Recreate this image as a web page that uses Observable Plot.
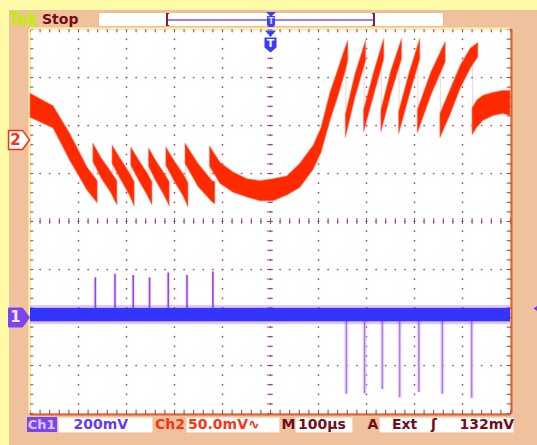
<!DOCTYPE html>
<html><head><meta charset="utf-8">
<script src="https://cdn.jsdelivr.net/npm/d3@7"></script>
<script src="https://cdn.jsdelivr.net/npm/@observablehq/plot@0.6"></script>
<style>
html,body{margin:0;padding:0;}
body{width:537px;height:445px;overflow:hidden;background:#fffba6;font-family:"DejaVu Sans",sans-serif;font-weight:bold;}
#scope{position:absolute;left:0;top:0;width:537px;height:445px;}
#panel{position:absolute;left:9px;top:10px;width:528px;height:435px;background:#efc19d;}
#chart{position:absolute;left:0;top:0;}
.lbl{position:absolute;white-space:nowrap;line-height:1;font-size:14px;}
.box{position:absolute;background:#fff;border:1px solid #f7d9bd;box-sizing:border-box;}
.dk{color:#760b1c;}
</style></head>
<body>
<div id="scope">
  <div id="panel"></div>
  <div id="chart"></div>

  <!-- header -->
  <span class="lbl" style="left:8.5px;top:9.5px;font-size:19px;color:#bff000;transform:scaleX(0.8);transform-origin:0 0;">Tek</span>
  <span class="lbl dk" style="left:42px;top:11.5px;font-size:14px;">Stop</span>
  <div class="box" style="left:97.5px;top:12px;width:346px;height:15px;border-color:#f0b896;"></div>
  <div style="position:absolute;left:167px;top:18.5px;width:207px;height:2px;background:#a57cf7;"></div>
  <div style="position:absolute;left:166px;top:13px;width:1.5px;height:13px;background:#8c1c3c;"></div>
  <div style="position:absolute;left:166px;top:13px;width:3px;height:1.2px;background:#8c1c3c;"></div>
  <div style="position:absolute;left:166px;top:24.8px;width:3px;height:1.2px;background:#8c1c3c;"></div>
  <div style="position:absolute;left:373px;top:13px;width:1.5px;height:13px;background:#8c1c3c;"></div>
  <div style="position:absolute;left:371.5px;top:13px;width:3px;height:1.2px;background:#8c1c3c;"></div>
  <div style="position:absolute;left:371.5px;top:24.8px;width:3px;height:1.2px;background:#8c1c3c;"></div>
  <div style="position:absolute;left:266px;top:12px;width:0;height:0;border-left:5px solid transparent;border-right:5px solid transparent;border-top:5px solid #3c3cff;"></div>
  <div style="position:absolute;left:267px;top:16px;width:8px;height:11px;background:#3c3cff;border-radius:0 0 3px 3px;"></div>
  <span class="lbl" style="left:267px;width:8px;text-align:center;top:17px;font-size:9px;color:#dcd4ff;">T</span>

  <!-- footer -->
  <div class="box" style="left:27px;top:416.5px;width:29.5px;height:15.5px;background:#7a44f5;border:none;"></div>
  <span class="lbl" style="left:27px;width:29.5px;text-align:center;top:417.8px;font-size:13px;color:#d9c8ff;">Ch1</span>
  <div class="box" style="left:58px;top:416.5px;width:94.5px;height:16px;"></div>
  <span class="lbl" style="left:73.5px;top:417.2px;color:#6b38f2;">200mV</span>
  <span class="lbl" style="left:155px;top:417.2px;color:#ff3311;">Ch2</span>
  <div class="box" style="left:185.5px;top:416.5px;width:94px;height:16px;"></div>
  <span class="lbl" style="left:188px;top:417.2px;color:#ff3311;">50.0mV∿</span>
  <span class="lbl dk" style="left:281.5px;top:417.2px;">M</span>
  <div class="box" style="left:295px;top:416.5px;width:58px;height:16px;"></div>
  <span class="lbl dk" style="left:298px;top:417.2px;">100µs</span>
  <span class="lbl dk" style="left:367.5px;top:417.2px;">A</span>
  <div class="box" style="left:378.5px;top:416.5px;width:135px;height:16px;"></div>
  <span class="lbl dk" style="left:392px;top:417.2px;">Ext</span>
  <span class="lbl dk" style="left:431px;top:417.2px;">ʃ</span>
  <span class="lbl dk" style="left:459.5px;top:417.2px;">132mV</span>
</div>

<script>
// ---------- scales / graticule ----------
const timeTicks = [-500, -400, -300, -200, -100, 0, 100, 200, 300, 400, 500]; // µs (100 µs/div)
const divTicks = [-4, -3, -2, -1, 0, 1, 2, 3, 4];                              // divisions
const ch1Scale = 200;   // mV/div
const ch2Scale = 50;    // mV/div
const ch1Offset = -2.0; // div (ground marker 1)
const ch2Offset = 1.7;  // div (ground marker 2)
const triggerTime = 0;  // µs
const triggerLevelDiv = -1.81;

// ---------- CH2 (red) ramps: [time µs, upper mV, lower mV] ----------
const ch2Ramp0 = [[-500, 48, 23], [-452, 35, 12], [-417, 6, -22], [-381, -29, -53], [-360, -43, -66]];
const ch2Ramp1 = [[-369, -4, -23], [-352, -19, -40], [-331, -34, -56], [-319, -43, -68]];
const ch2Ramp2 = [[-329, -6, -25], [-312, -20, -41], [-294, -34, -57], [-283, -44, -69]];
const ch2Ramp3 = [[-290, -8, -27], [-273, -22, -43], [-256, -35, -58], [-246, -44, -68]];
const ch2Ramp4 = [[-253, -9, -28], [-238, -22, -43], [-221, -35, -58], [-210, -44, -69]];
const ch2Ramp5 = [[-217, -8, -27], [-200, -22, -43], [-181, -36, -59], [-171, -45, -70]];
const ch2Ramp6 = [[-177, -4, -25], [-150, -25, -49], [-121, -43, -65], [-115, -44, -67]];
const ch2Bowl = [[-126, -7, -28], [-104, -24, -46], [-77, -34, -55], [-48, -41, -60], [-21, -43, -64],
                 [6, -41, -64], [35, -38, -58], [62, -25, -50], [90, -6, -31], [106, 12, -14],
                 [125, 49, 20], [142, 74, 46], [156, 95, 70], [162, 103, 82]];
const ch2Rise1 = [[157, 26, 2], [177, 68, 44], [199, 103, 82]];
const ch2Rise2 = [[195, 31, 8], [217, 72, 48], [237, 105, 84]];
const ch2Rise3 = [[231, 31, 8], [252, 72, 48], [274, 105, 84]];
const ch2Rise4 = [[268, 29, 6], [290, 70, 46], [312, 105, 84]];
const ch2Rise5 = [[307, 31, 7], [335, 70, 46], [365, 102, 81]];
const ch2Rise6 = [[354, 27, 2], [375, 52, 26], [396, 77, 53], [417, 95, 74], [433, 101, 86]];
const ch2Plateau = [[421, 33, 5], [431, 41, 13], [444, 46, 20], [465, 49, 25], [485, 51, 27], [500, 51, 25]];

// ---------- CH1 (blue) ----------
const ch1BandCore = [38, -18];   // mV upper, lower
const ch1BandFuzz = [50, -30];
const ch1PulseTimes = [-365, -324, -286, -252, -213, -174, -120];
const ch1PulsePeaks = [165, 180, 175, 165, 185, 175, 190];
const ch1DipTimes = [158, 196, 233, 269, 309, 358, 419];
const ch1DipPeaks = [-320, -318, -300, -335, -313, -320, -337];

// ---------- build ----------
const toDiv1 = v => v / ch1Scale + ch1Offset;
const toDiv2 = v => v / ch2Scale + ch2Offset;
const xMin = timeTicks[0], xMax = timeTicks[timeTicks.length - 1];
const yMin = divTicks[0], yMax = divTicks[divTicks.length - 1];
const minorT = d3.range(0, 51).map(i => xMin + i * 20);
const minorD = d3.range(0, 41).map(i => yMin + i * 0.2);

const ch2Segments = [ch2Ramp0, ch2Ramp1, ch2Ramp2, ch2Ramp3, ch2Ramp4, ch2Ramp5, ch2Ramp6, ch2Bowl,
                     ch2Rise1, ch2Rise2, ch2Rise3, ch2Rise4, ch2Rise5, ch2Rise6, ch2Plateau];
const ch2Rows = ch2Segments.flatMap((seg, k) => seg.map(([t, hi, lo]) => ({k, t, hi: toDiv2(hi), lo: toDiv2(lo)})));
const ch2Jumps = ch2Segments.slice(1).map((seg, i) => {
  const prev = ch2Segments[i][ch2Segments[i].length - 1], next = seg[0];
  return {t: next[0], a: toDiv2((prev[1] + prev[2]) / 2), b: toDiv2((next[1] + next[2]) / 2)};
});
const gridDots = [
  ...timeTicks.flatMap(t => minorD.map(d => ({t, d}))),
  ...divTicks.flatMap(d => minorT.map(t => ({t, d})))
];
const pulseIdx = d3.range(ch1PulseTimes.length);
const dipIdx = d3.range(ch1DipTimes.length);

const groundMarker = {draw(c) { c.moveTo(0, 0); c.lineTo(-7, -9.5); c.lineTo(-21, -9.5); c.lineTo(-21, 9.5); c.lineTo(-7, 9.5); c.closePath(); }};
const triggerFlag = {draw(c) { c.moveTo(-6, 0); c.lineTo(6, 0); c.lineTo(6, 10); c.lineTo(0, 15); c.lineTo(-6, 10); c.closePath(); }};
const triggerNotch = {draw(c) { c.moveTo(-5.5, 0); c.lineTo(5.5, 0); c.lineTo(0, 6.5); c.closePath(); }};
const levelArrow = {draw(c) { c.moveTo(0, 0); c.lineTo(5, -3.5); c.lineTo(5, 3.5); c.closePath(); }};

const gridColor = "#a83a60";
const red = "#ff2a00";

const chart = Plot.plot({
  width: 537, height: 445,
  marginLeft: 30, marginRight: 27, marginTop: 29, marginBottom: 32,
  x: {domain: [xMin, xMax], axis: null},
  y: {domain: [yMin, yMax], axis: null},
  style: {background: "transparent", fontFamily: "DejaVu Sans", overflow: "visible"},
  marks: [
    Plot.frame({fill: "white"}),
    Plot.dot(gridDots, {x: "t", y: "d", r: 0.85, fill: gridColor}),
    Plot.ruleX(minorT, {y1: () => -0.06, y2: () => 0.06, stroke: gridColor}),
    Plot.ruleY(minorD, {x1: () => -6, x2: () => 6, stroke: gridColor}),
    Plot.ruleX(minorT, {y1: () => yMax, y2: () => yMax - 0.07, stroke: gridColor}),
    Plot.ruleX(minorT, {y1: () => yMin, y2: () => yMin + 0.07, stroke: gridColor}),
    Plot.ruleY(minorD, {x1: () => xMin, x2: () => xMin + 7, stroke: gridColor}),
    Plot.ruleY(minorD, {x1: () => xMax, x2: () => xMax - 7, stroke: gridColor}),
    Plot.ruleX([xMin], {stroke: "#fff3a8", strokeWidth: 2, dx: -1}),
    Plot.ruleY([yMax], {stroke: "#fff3a8", strokeWidth: 2, dy: -1}),
    Plot.ruleX([xMax], {stroke: "#e2602c", strokeWidth: 2, dx: 1}),
    Plot.ruleY([yMin], {stroke: "#e2602c", strokeWidth: 2, dy: 1}),

    // CH1
    Plot.ruleX(dipIdx, {x: i => ch1DipTimes[i], y1: () => ch1Offset, y2: i => toDiv1(ch1DipPeaks[i]), stroke: "#dcc8fa", strokeWidth: 4, strokeOpacity: 0.6}),
    Plot.ruleX(dipIdx, {x: i => ch1DipTimes[i], y1: () => ch1Offset, y2: i => toDiv1(ch1DipPeaks[i]), stroke: "#b07af4", strokeWidth: 1.6}),
    Plot.ruleX(pulseIdx, {x: i => ch1PulseTimes[i], y1: () => ch1Offset, y2: i => toDiv1(ch1PulsePeaks[i]), stroke: "#d8bff9", strokeWidth: 3.5, strokeOpacity: 0.5}),
    Plot.ruleX(pulseIdx, {x: i => ch1PulseTimes[i], y1: () => ch1Offset, y2: i => toDiv1(ch1PulsePeaks[i]), stroke: "#9a42f2", strokeWidth: 1.6}),
    Plot.rect([ch1BandFuzz], {x1: () => xMin, x2: () => xMax, y1: d => toDiv1(d[1]), y2: d => toDiv1(d[0]), fill: "#8a4ff7", fillOpacity: 0.3}),
    Plot.rect([ch1BandCore], {x1: () => xMin, x2: () => xMax, y1: d => toDiv1(d[1]), y2: d => toDiv1(d[0]), fill: "#3434ff"}),

    // CH2
    Plot.ruleX(ch2Jumps, {x: "t", y1: "a", y2: "b", stroke: "#ff6a50", strokeOpacity: 0.3}),
    Plot.areaY(ch2Rows, {x: "t", y1: "lo", y2: "hi", z: "k", fill: red, stroke: "#ff6a50", strokeWidth: 1.2, strokeOpacity: 0.5}),

    // markers
    Plot.dot([ch2Offset], {x: () => xMin, y: d => d, symbol: groundMarker, fill: "white", stroke: "#ff3010", strokeWidth: 1.5, dx: -1}),
    Plot.text([ch2Offset], {x: () => xMin, y: d => d, text: () => "2", dx: -15, fill: "#ff3010", fontSize: 15, fontWeight: "bold"}),
    Plot.dot([ch1Offset], {x: () => xMin, y: d => d, symbol: groundMarker, fill: "#7a44f5", stroke: "#7a44f5", strokeWidth: 1, dx: -1}),
    Plot.text([ch1Offset], {x: () => xMin, y: d => d, text: () => "1", dx: -15, fill: "#efe8ff", fontSize: 15, fontWeight: "bold"}),
    Plot.dot([triggerTime], {x: d => d, y: () => yMax, symbol: triggerNotch, fill: "#3a3aff", dy: 1}),
    Plot.dot([triggerTime], {x: d => d, y: () => yMax, symbol: triggerFlag, fill: "#3a3aff", dy: 8}),
    Plot.text([triggerTime], {x: d => d, y: () => yMax, text: () => "T", dy: 14, fill: "white", fontSize: 11, fontWeight: "bold"}),
    Plot.dot([triggerLevelDiv], {x: () => xMax, y: d => d, symbol: levelArrow, fill: "#6b3ef2", dx: 23})
  ]
});
document.getElementById("chart").appendChild(chart);
</script>
</body></html>
